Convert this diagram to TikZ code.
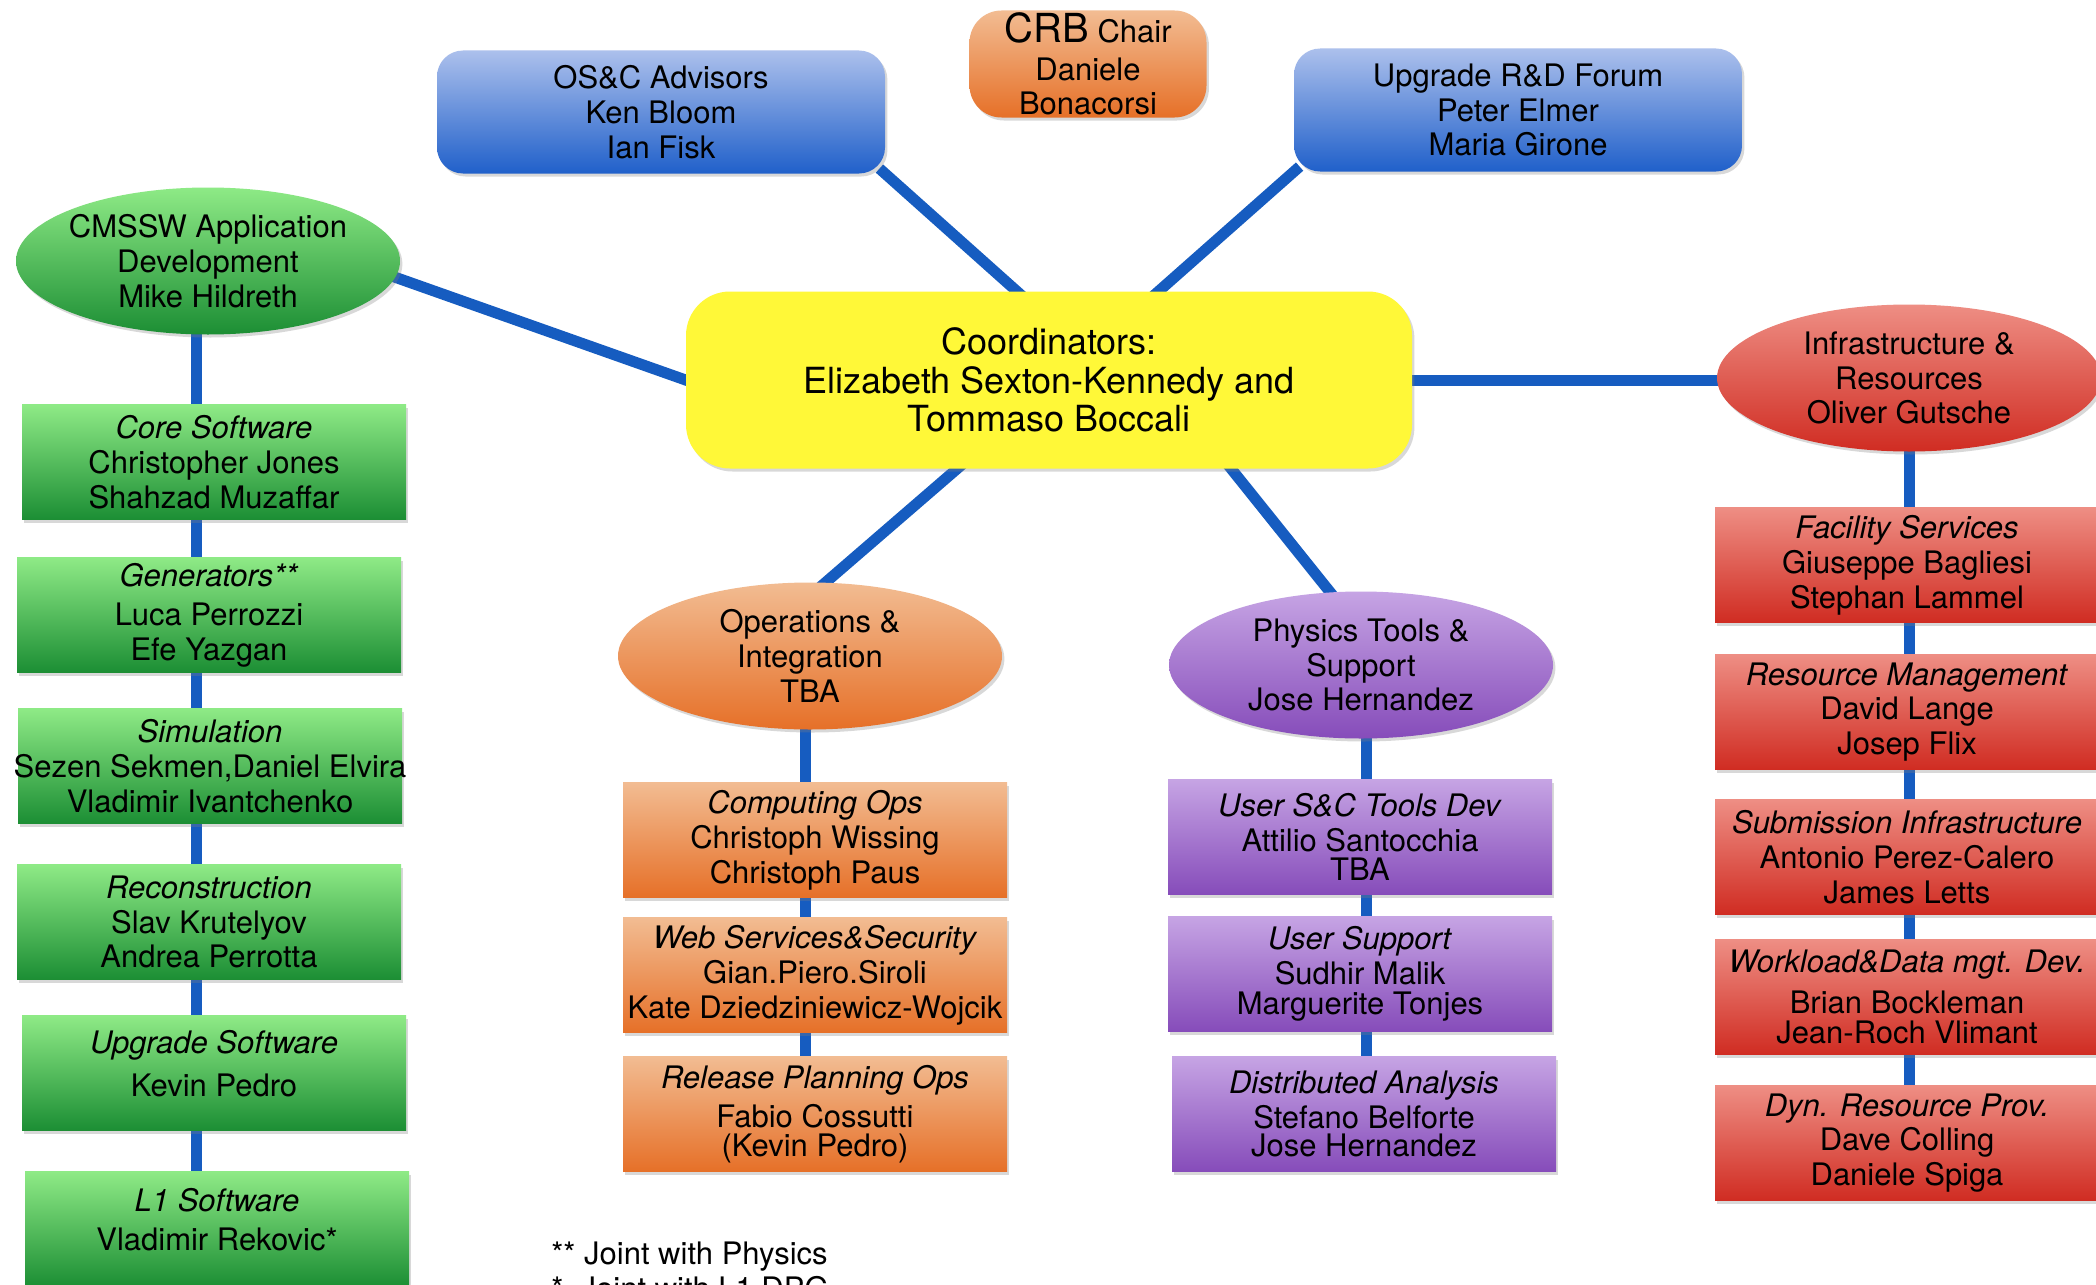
\documentclass[tikz,border=0pt]{standalone}
\usepackage{fontspec}
\setmainfont{TeX Gyre Heros}
\usetikzlibrary{shapes.geometric,shadows,backgrounds}

\definecolor{linkblue}{RGB}{22,92,192}
\definecolor{greentop}{RGB}{142,234,134}
\definecolor{greenbot}{RGB}{28,142,52}
\definecolor{orangetop}{RGB}{242,188,146}
\definecolor{orangebot}{RGB}{230,112,40}
\definecolor{purpletop}{RGB}{198,164,228}
\definecolor{purplebot}{RGB}{134,76,186}
\definecolor{redtop}{RGB}{238,142,132}
\definecolor{redbot}{RGB}{208,44,34}
\definecolor{bluetop}{RGB}{172,192,236}
\definecolor{bluebot}{RGB}{32,96,202}
\definecolor{coordyellow}{RGB}{255,248,56}

\tikzstyle{every node}=[align=center,inner sep=0pt,font=\fontsize{15.5}{17.4}\selectfont]
\tikzstyle{softshadow}=[drop shadow={opacity=0.3,shadow xshift=1.2pt,shadow yshift=-1.5pt}]
\tikzstyle{team}=[rectangle,inner xsep=-5pt,minimum width=192pt,minimum height=57.5pt,softshadow]
\tikzstyle{greenteam}=[team,top color=greentop,bottom color=greenbot]
\tikzstyle{orangeteam}=[team,top color=orangetop,bottom color=orangebot]
\tikzstyle{purpleteam}=[team,top color=purpletop,bottom color=purplebot]
\tikzstyle{redteam}=[team,top color=redtop,bottom color=redbot]
\tikzstyle{area}=[ellipse,inner xsep=-25pt,minimum width=192pt,minimum height=73.5pt,softshadow]
\tikzstyle{advisors}=[rectangle,rounded corners=13pt,minimum width=224pt,minimum height=61.5pt,top color=bluetop,bottom color=bluebot,softshadow]
\tikzstyle{link}=[line width=5.5pt,linkblue,shorten <=-4pt,shorten >=-4pt]

\begin{document}
\begin{tikzpicture}[x=0.5pt,y=-0.5pt]
\useasboundingbox (0,0) rectangle (2096,1284);

% top row
\draw (661,112) node[advisors](osc){OS\&C Advisors\\Ken Bloom\\Ian Fisk};
\draw (1088,64) node[rectangle,rounded corners=16pt,minimum width=118.5pt,minimum height=53.5pt,top color=orangetop,bottom color=orangebot,softshadow](crb){{\fontsize{20}{22}\selectfont CRB} Chair\\[1.3pt]Daniele\\Bonacorsi};
\draw (1518,110) node[advisors](rnd){Upgrade R\&D Forum\\Peter Elmer\\Maria Girone};
\draw (1049,380) node[rectangle,rounded corners=22pt,minimum width=363pt,minimum height=88.5pt,fill=coordyellow,softshadow,font=\fontsize{18}{19.4}\selectfont](coord){Coordinators:\\Elizabeth Sexton-Kennedy and\\Tommaso Boccali};

% areas
\draw (208,261) node[area,top color=greentop,bottom color=greenbot](cmssw){CMSSW Application\\Development\\Mike Hildreth};
\draw (1909,378) node[area,top color=redtop,bottom color=redbot](infra){Infrastructure \&\\Resources\\Oliver Gutsche};
\draw (810,656) node[area,top color=orangetop,bottom color=orangebot](ops){Operations \&\\Integration\\TBA};
\draw (1361,665) node[area,top color=purpletop,bottom color=purplebot](phys){Physics Tools \&\\Support\\Jose Hernandez};

% CMSSW teams
\draw (214,462) node[greenteam](core){\textit{Core Software}\\Christopher Jones\\Shahzad Muzaffar};
\draw (209,615) node[greenteam](gen){\textit{Generators**}\\[2pt]Luca Perrozzi\\Efe Yazgan};
\draw (210,766) node[greenteam](sim){\textit{Simulation}\\Sezen Sekmen,Daniel Elvira\\Vladimir Ivantchenko};
\draw (209,922) node[greenteam](reco){\textit{Reconstruction}\\Slav Krutelyov\\Andrea Perrotta};
\draw (214,1073) node[greenteam](upg){\textit{Upgrade Software}\\[4pt]Kevin Pedro\\[-8pt]\mbox{}};
\draw (217,1229) node[greenteam](l1){\textit{L1 Software}\\[2pt]Vladimir Rekovic*\\[-8pt]\mbox{}};

% operations teams
\draw (815,840) node[orangeteam](cops){\textit{Computing Ops}\\Christoph Wissing\\Christoph Paus};
\draw (815,975) node[orangeteam](web){\textit{Web Services\&Security}\\Gian.Piero.Siroli\\Kate Dziedziniewicz-Wojcik};
\draw (815,1114) node[orangeteam](rel){\textit{Release Planning Ops}\\[2pt]Fabio Cossutti\\[-3pt](Kevin Pedro)};

% physics tools teams
\draw (1360,837) node[purpleteam](usc){\textit{User S\&C Tools Dev}\\Attilio Santocchia\\[-2.5pt]TBA};
\draw (1360,974) node[purpleteam](usup){\textit{User Support}\\Sudhir Malik\\[-2.5pt]Marguerite Tonjes};
\draw (1364,1114) node[purpleteam](dist){\textit{Distributed Analysis}\\Stefano Belforte\\[-3pt]Jose Hernandez};

% infrastructure teams
\draw (1907,565) node[redteam](fac){\textit{Facility Services}\\Giuseppe Bagliesi\\Stephan Lammel};
\draw (1907,712) node[redteam](resm){\textit{Resource Management}\\David Lange\\Josep Flix};
\draw (1907,857) node[redteam](sub){\textit{Submission Infrastructure}\\Antonio Perez-Calero\\James Letts};
\draw (1907,997) node[redteam](wdm){\textit{Workload\&Data mgt. Dev.}\\[3pt]Brian Bockleman\\[-2.5pt]Jean-Roch Vlimant};
\draw (1907,1143) node[redteam](dyn){\textit{Dyn. Resource Prov.}\\Dave Colling\\Daniele Spiga};

% footnotes
\draw (551,1264) node[anchor=base west](note1){** Joint with Physics};
\draw (551,1299) node[anchor=base west](note2){*\ \ Joint with L1 DPG};

\begin{pgfonlayer}{background}
\fill[white] (0,0) rectangle (2096,1284);
\draw[link] (osc.south east)--(coord.110);
\draw[link] (rnd.south west)--(coord.39);
\draw[link] (cmssw.-5)--(coord.west);
\draw[link] (coord.east)--(coord.east -| infra.west);
\draw[link] (coord.224)--(ops.78);
\draw[link] (coord.-26)--(phys.113);
\foreach \a/\b in {cmssw/core,core/gen,gen/sim,sim/reco,reco/upg,upg/l1}
  \draw[link] ([xshift=-6pt]cmssw.center |- \a.center)--([xshift=-6pt]cmssw.center |- \b.center);
\foreach \a/\b in {ops/cops,cops/web,web/rel}
  \draw[link] ([xshift=-2.5pt]ops.center |- \a.center)--([xshift=-2.5pt]ops.center |- \b.center);
\foreach \a/\b in {phys/usc,usc/usup,usup/dist}
  \draw[link] ([xshift=2.5pt]phys.center |- \a.center)--([xshift=2.5pt]phys.center |- \b.center);
\foreach \a/\b in {infra/fac,fac/resm,resm/sub,sub/wdm,wdm/dyn}
  \draw[link] (infra.center |- \a.center)--(infra.center |- \b.center);
\end{pgfonlayer}
\end{tikzpicture}
\end{document}
